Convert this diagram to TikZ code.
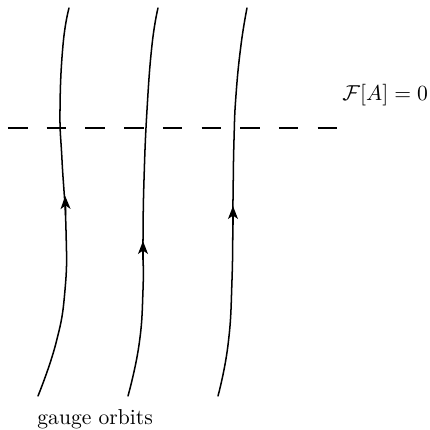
\documentclass[tikz,border=0pt]{standalone}
\usetikzlibrary{arrows.meta}
\begin{document}
\begin{tikzpicture}[x=0.463pt,y=-0.463pt,
  orbit/.style={line width=0.7pt, line join=round, line cap=round},
  tipmark/.style={-{Stealth[length=6pt,width=4.6pt,inset=1.6pt]}, line width=0.7pt},
  slice/.style={line width=0.7pt, dash pattern=on 9.03pt off 8.89pt},
  lbl/.style={anchor=base west, inner sep=0pt}]
\useasboundingbox (0,0) rectangle (430,430);
% gauge orbits
\draw[orbit] plot[smooth, tension=0.8] coordinates {(38,396) (56,343) (65,290) (66,230) (62,160) (60,110) (63,45) (69,8)};
\draw[orbit] plot[smooth, tension=0.8] coordinates {(128,396) (139,345) (143,290) (143,240) (144,180) (147,110) (152,45) (158,8)};
\draw[orbit] plot[smooth, tension=0.8] coordinates {(218,396) (228,345) (232,280) (233,200) (234,140) (236,95) (241,45) (247,8)};
% arrow heads
\coordinate (a1s) at (65.7,215); \coordinate (a1e) at (65.2,196);
\coordinate (a2s) at (143,260); \coordinate (a2e) at (143,241);
\coordinate (a3s) at (233,225); \coordinate (a3e) at (233,206);
\draw[tipmark] (a1s) -- (a1e);
\draw[tipmark] (a2s) -- (a2e);
\draw[tipmark] (a3s) -- (a3e);
% gauge fixing slice
\coordinate (s1) at (8,128);
\coordinate (s2) at (337,128);
\draw[slice] (s1) -- (s2);
\node[lbl] (lab) at (342,100) {$\mathcal{F}[A]=0$};
\node[lbl] (go) at (37,424) {gauge orbits};
\end{tikzpicture}
\end{document}
